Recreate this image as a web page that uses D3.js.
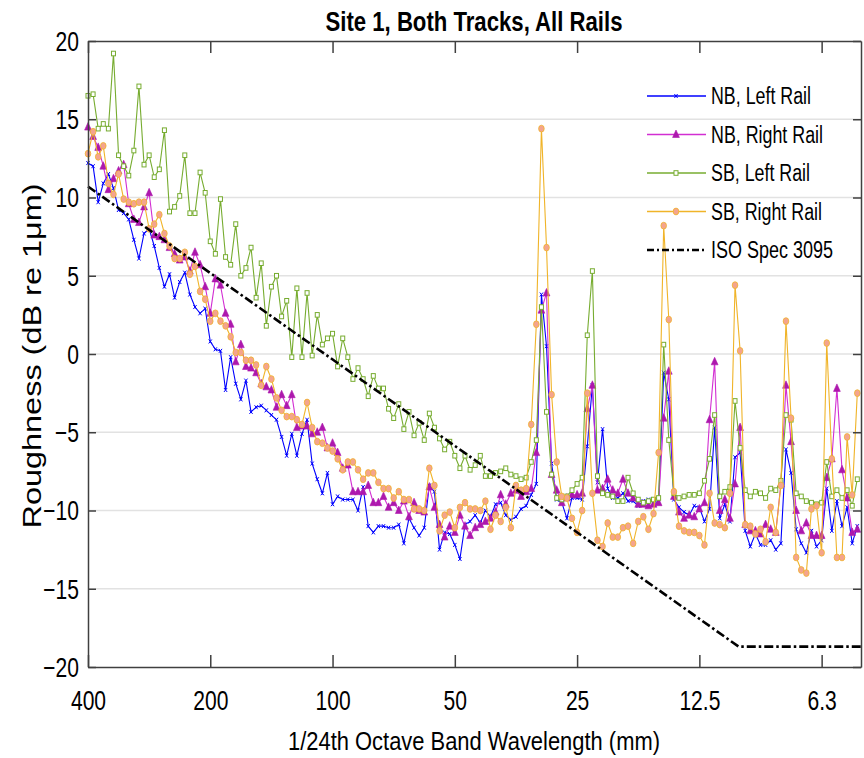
<!DOCTYPE html>
<html>
<head>
<meta charset="utf-8">
<script src="https://cdn.jsdelivr.net/npm/d3@7"></script>
<style>
  body { margin: 0; background: #fff; }
  text { font-family: "Liberation Sans", Arial, sans-serif; fill: #000; }
</style>
</head>
<body>
<script>

// roughness levels (dB re 1um), one value per 1/24 octave band starting at 400 mm
const nbLeft = [
  12.2, 12.0, 9.7, 10.9, 11.5, 10.6, 9.2, 9.0, 8.6, 7.3, 6.1, 7.7, 8.0, 6.9, 5.5, 4.3, 5.1, 3.6, 4.6, 5.2,
  3.8, 3.0, 2.6, 2.9, 0.8, 0.3, 0.2, -2.3, -0.2, -1.9, -2.9, -1.7, -3.7, -3.4, -3.3, -3.6, -3.9, -4.2, -5.3, -6.5,
  -5.1, -6.5, -5.1, -4.2, -7.0, -8.0, -8.9, -7.6, -9.6, -9.1, -9.3, -9.3, -9.3, -10.0, -8.5, -11.0, -11.4, -11.0, -11.0, -11.1,
  -11.1, -10.9, -12.1, -10.5, -11.1, -11.6, -11.1, -8.4, -8.8, -12.5, -11.4, -11.5, -12.2, -13.1, -10.9, -10.7, -10.3, -10.8, -10.0, -10.4,
  -9.6, -9.5, -10.3, -10.6, -10.4, -9.9, -9.7, -9.0, -8.3, 3.8, 0.5, -7.0, -9.3, -9.5, -10.5, -9.2, -9.2, -9.3, -5.9, -2.0,
  -8.2, -4.8, -8.6, -9.2, -9.2, -8.9, -9.4, -9.4, -9.7, -9.4, -9.3, -9.4, -9.5, -1.2, -2.9, -9.3, -9.8, -10.1, -10.3, -9.7,
  -9.8, -10.7, -9.9, -4.7, -10.5, -9.6, -10.7, -6.6, -6.3, -11.3, -12.3, -11.5, -12.2, -12.2, -11.9, -12.5, -12.1, -6.1, -7.6, -11.2,
  -12.1, -12.7, -11.3, -12.3, -11.9, -8.6, -11.3, -9.4, -11.0, -9.8, -12.1, -11.0
];
const nbRight = [
  14.5, 13.9, 13.2, 12.0, 10.5, 11.2, 11.7, 12.1, 9.6, 8.6, 8.4, 9.4, 10.3, 7.6, 7.5, 7.3, 6.8, 6.4, 6.0, 6.2,
  5.3, 6.5, 5.7, 4.3, 2.6, 4.8, 4.4, 2.6, 1.9, -0.5, 0.6, -0.8, -0.9, -1.2, -1.9, -2.1, -2.3, -3.4, -2.6, -3.3,
  -2.6, -4.7, -4.6, -4.6, -5.1, -5.0, -4.7, -6.0, -5.7, -6.3, -7.3, -7.1, -8.8, -8.8, -8.8, -8.4, -9.5, -9.5, -9.1, -9.8,
  -9.5, -10.0, -9.4, -10.4, -9.5, -10.0, -10.1, -8.5, -9.8, -10.9, -11.7, -11.0, -11.4, -10.3, -11.0, -11.6, -11.1, -10.9, -10.7, -10.5,
  -10.1, -9.0, -9.6, -8.9, -8.7, -9.1, -8.8, -8.6, -6.3, 2.8, 3.9, -7.7, -8.7, -9.5, -9.2, -9.0, -9.0, -8.9, -3.5, -2.0,
  -8.7, -8.6, -8.0, -8.7, -8.9, -8.0, -8.9, -9.2, -9.6, -9.6, -9.7, -9.6, -9.5, -4.1, -1.1, -9.1, -10.1, -10.5, -10.3, -10.4,
  -9.9, -9.5, -4.2, -0.5, -10.0, -9.3, -10.5, -8.3, -4.7, -10.9, -11.3, -11.3, -11.5, -10.9, -11.2, -11.4, -8.3, -2.0, -5.6, -10.0,
  -11.3, -10.8, -11.6, -11.6, -11.6, -7.9, -6.7, -2.2, -7.4, -9.2, -11.4, -11.2
];
const sbLeft = [
  16.5, 16.6, 14.4, 14.7, 14.4, 19.2, 12.7, 12.0, 11.4, 13.0, 17.1, 12.1, 12.7, 11.3, 11.8, 14.3, 9.1, 9.4, 10.1, 12.7,
  9.0, 9.0, 11.6, 10.3, 7.2, 6.4, 9.9, 6.2, 5.7, 8.3, 5.0, 5.5, 6.8, 3.6, 5.8, 1.8, 4.3, 5.0, 2.4, 3.4,
  -0.2, 4.2, -0.2, 3.9, -0.1, 2.5, 0.6, 1.0, 1.3, -0.8, 1.0, -0.2, -1.6, -0.9, -1.6, -2.7, -1.4, -2.2, -2.2, -3.5,
  -4.1, -3.2, -4.8, -3.7, -5.2, -4.4, -5.5, -3.8, -4.7, -5.4, -6.1, -5.6, -6.5, -7.3, -6.5, -7.4, -7.1, -6.5, -7.8, -7.8,
  -7.6, -7.5, -7.3, -7.7, -7.8, -8.0, -7.9, -6.9, -5.5, 3.0, -3.7, -7.7, -9.2, -9.3, -9.1, -8.7, -8.3, -7.9, 1.2, 5.3,
  -7.8, -8.9, -9.0, -9.1, -9.4, -9.4, -7.9, -8.9, -9.3, -9.5, -9.4, -9.3, -9.2, 0.6, -5.5, -8.9, -9.2, -9.1, -9.0, -9.0,
  -8.9, -8.1, -6.7, -3.9, -9.1, -8.8, -8.5, -3.0, -6.0, -8.7, -9.1, -8.8, -8.9, -9.2, -8.6, -8.7, -8.1, -3.9, -4.2, -8.9,
  -9.1, -9.4, -9.5, -9.6, -9.5, -6.9, -9.1, -8.7, -9.2, -8.7, -9.7, -8.0
];
const sbRight = [
  12.8, 14.2, 12.6, 13.3, 10.9, 10.2, 11.5, 9.9, 9.7, 9.6, 9.7, 9.7, 8.0, 8.3, 8.9, 7.7, 6.9, 6.1, 6.1, 6.5,
  5.1, 5.6, 4.0, 3.5, 2.1, 2.6, 2.1, 1.8, 1.1, 0.1, 0.1, -0.4, -0.4, -0.7, -2.0, -0.8, -1.6, -2.8, -3.6, -4.0,
  -4.0, -4.2, -4.5, -3.1, -4.7, -5.6, -5.7, -6.0, -6.2, -6.7, -7.4, -6.9, -6.9, -7.4, -8.0, -7.6, -7.6, -8.2, -8.6, -8.6,
  -9.2, -8.8, -9.3, -9.3, -9.9, -9.9, -10.0, -7.3, -8.4, -11.3, -10.3, -10.1, -11.1, -9.8, -9.5, -9.9, -9.9, -10.0, -9.4, -11.2,
  -10.3, -10.7, -9.8, -11.1, -8.4, -8.7, -8.6, -4.5, 1.9, 14.4, 6.8, -2.6, -6.9, -9.1, -9.2, -10.5, -11.4, -10.0, -2.5, -8.9,
  -11.9, -12.3, -10.8, -11.7, -11.7, -11.1, -11.0, -12.1, -10.7, -10.4, -11.2, -10.2, -6.3, 8.2, 2.2, -8.8, -11.0, -11.3, -11.4, -11.4,
  -11.6, -12.2, -8.9, -10.8, -10.9, -11.1, -8.9, 4.4, 0.2, -10.9, -11.0, -11.5, -11.2, -12.0, -9.8, -11.4, -8.4, 2.1, -4.1, -13.0,
  -13.8, -14.0, -9.9, -9.7, -12.7, 0.7, -6.7, -13.0, -13.0, -5.3, -9.0, -2.5
];

// ISO 3095 limit spectrum break points
const isoWavelength = [400, 10, 5];
const isoLevel = [10.7, -18.7, -18.7];

const xTicks = [400, 200, 100, 50, 25, 12.5, 6.25];
const xTickLabels = ["400", "200", "100", "50", "25", "12.5", "6.3"];
const yTicks = [-20, -15, -10, -5, 0, 5, 10, 15, 20];
const seriesNames = ["NB, Left Rail", "NB, Right Rail", "SB, Left Rail", "SB, Right Rail", "ISO Spec 3095"];

const wavelength = d3.range(nbLeft.length).map(i => 400 * Math.pow(2, -i / 24));

const width = 864, height = 758;
const plotLeft = 88, plotRight = 861, plotTop = 41, plotBottom = 667;
const squeeze = 0.78;

const svg = d3.select("body")
    .append("svg")
    .attr("width", width)
    .attr("height", height);

const x = d3.scaleLog().domain([400, 5]).range([plotLeft, plotRight]);
const y = d3.scaleLinear().domain([-20, 20]).range([plotBottom, plotTop]);

// horizontal grid
svg.append("g")
    .selectAll("line")
    .data(yTicks.filter(d => d > -20 && d < 20))
    .enter().append("line")
    .attr("x1", plotLeft).attr("x2", plotRight)
    .attr("y1", d => y(d)).attr("y2", d => y(d))
    .attr("stroke", "#e2e2e2")
    .attr("stroke-width", 1.5);

const series = [
    {values: nbLeft,  color: "#0000ff", marker: "x"},
    {values: nbRight, color: "#d22ed2", marker: "tri"},
    {values: sbLeft,  color: "#77ac30", marker: "square"},
    {values: sbRight, color: "#f0b429", marker: "circle"}
];

const line = d3.line()
    .x((d, i) => x(wavelength[i]))
    .y(d => y(d));

function drawMarker(g, type, color) {
    if (type === "x") {
        g.append("path")
            .attr("d", "M-1.6,-2L1.6,2M-1.6,2L1.6,-2")
            .attr("stroke", color).attr("stroke-width", 1).attr("fill", "none");
    } else if (type === "tri") {
        g.append("path")
            .attr("d", "M0,-4.5L3.4,3L-3.4,3Z")
            .attr("fill", "#ad18ad").attr("stroke", "#ad18ad").attr("stroke-width", 0.6);
    } else if (type === "square") {
        g.append("rect")
            .attr("x", -2).attr("y", -2.3).attr("width", 4).attr("height", 4.6)
            .attr("fill", "#fff").attr("stroke", color).attr("stroke-width", 1);
    } else {
        g.append("ellipse")
            .attr("rx", 2.8).attr("ry", 3.4)
            .attr("fill", "#f4a48e").attr("stroke", color).attr("stroke-width", 0.8);
    }
}

const plot = svg.append("g");

series.forEach(s => {
    plot.append("path")
        .attr("fill", "none")
        .attr("stroke", s.color)
        .attr("stroke-width", 1.1)
        .attr("d", line(s.values));

    plot.selectAll(null)
        .data(s.values)
        .enter().append("g")
        .attr("transform", (d, i) => `translate(${x(wavelength[i])},${y(d)})`)
        .each(function () { drawMarker(d3.select(this), s.marker, s.color); });
});

const isoLine = d3.line()
    .x((d, i) => x(isoWavelength[i]))
    .y(d => y(d));

plot.append("path")
    .attr("fill", "none")
    .attr("stroke", "#000")
    .attr("stroke-width", 2.6)
    .attr("stroke-dasharray", "9,3,2.5,3")
    .attr("d", isoLine(isoLevel));

// axes box with inward ticks
const axisColor = "#404040";

const xAxisBottom = svg.append("g")
    .attr("transform", `translate(0,${plotBottom})`)
    .call(d3.axisBottom(x).tickValues(xTicks).tickSize(-12).tickSizeOuter(0).tickPadding(24)
        .tickFormat((d, i) => xTickLabels[i]));
svg.append("g")
    .attr("transform", `translate(0,${plotTop})`)
    .call(d3.axisTop(x).tickValues(xTicks).tickSize(-12).tickSizeOuter(0).tickFormat(""));
const yAxisLeft = svg.append("g")
    .attr("transform", `translate(${plotLeft},0)`)
    .call(d3.axisLeft(y).tickValues(yTicks).tickSize(-8).tickSizeOuter(0).tickPadding(9));
svg.append("g")
    .attr("transform", `translate(${plotRight},0)`)
    .call(d3.axisRight(y).tickValues(yTicks).tickSize(-8).tickSizeOuter(0).tickFormat(""));

svg.selectAll(".domain, .tick line")
    .attr("stroke", axisColor)
    .attr("stroke-width", 1.5);

xAxisBottom.selectAll("text")
    .attr("font-size", 27)
    .attr("fill", "#222")
    .attr("transform", `scale(${squeeze},1)`);
yAxisLeft.selectAll("text")
    .attr("font-size", 27)
    .attr("fill", "#222")
    .attr("dy", "0.35em")
    .attr("transform", `scale(${squeeze},1)`)
    .attr("x", -9 / squeeze);

// title and axis labels
svg.append("text")
    .attr("x", 474).attr("y", 31)
    .attr("text-anchor", "middle")
    .attr("font-size", 27)
    .attr("font-weight", "bold")
    .attr("textLength", 297)
    .attr("lengthAdjust", "spacingAndGlyphs")
    .text("Site 1, Both Tracks, All Rails");

svg.append("text")
    .attr("x", 474).attr("y", 750)
    .attr("text-anchor", "middle")
    .attr("font-size", 26)
    .attr("fill", "#222")
    .attr("textLength", 372)
    .attr("lengthAdjust", "spacingAndGlyphs")
    .text("1/24th Octave Band Wavelength (mm)");

svg.append("text")
    .attr("transform", "translate(41,356) rotate(-90)")
    .attr("text-anchor", "middle")
    .attr("font-size", 25)
    .attr("fill", "#222")
    .attr("textLength", 345)
    .attr("lengthAdjust", "spacingAndGlyphs")
    .text("Roughness (dB re 1\u03bcm)");

// legend
const legendY = [96, 134.5, 173, 211.5, 250];
const legend = svg.append("g");
seriesNames.forEach((name, i) => {
    const row = legend.append("g").attr("transform", `translate(0,${legendY[i]})`);
    if (i < 4) {
        row.append("line")
            .attr("x1", 647).attr("x2", 706)
            .attr("stroke", series[i].color).attr("stroke-width", 1.4);
        const m = row.append("g").attr("transform", "translate(676,0)");
        drawMarker(m, series[i].marker, series[i].color);
    } else {
        row.append("line")
            .attr("x1", 647).attr("x2", 706)
            .attr("stroke", "#000").attr("stroke-width", 2.6)
            .attr("stroke-dasharray", "7,3,2,3");
    }
    row.append("text")
        .attr("x", 711).attr("y", 0)
        .attr("dy", "0.35em")
        .attr("font-size", 23)
        .attr("fill", "#222")
        .attr("textLength", [100, 112, 99, 111, 122][i])
        .attr("lengthAdjust", "spacingAndGlyphs")
        .text(name);
});

</script>
</body>
</html>
